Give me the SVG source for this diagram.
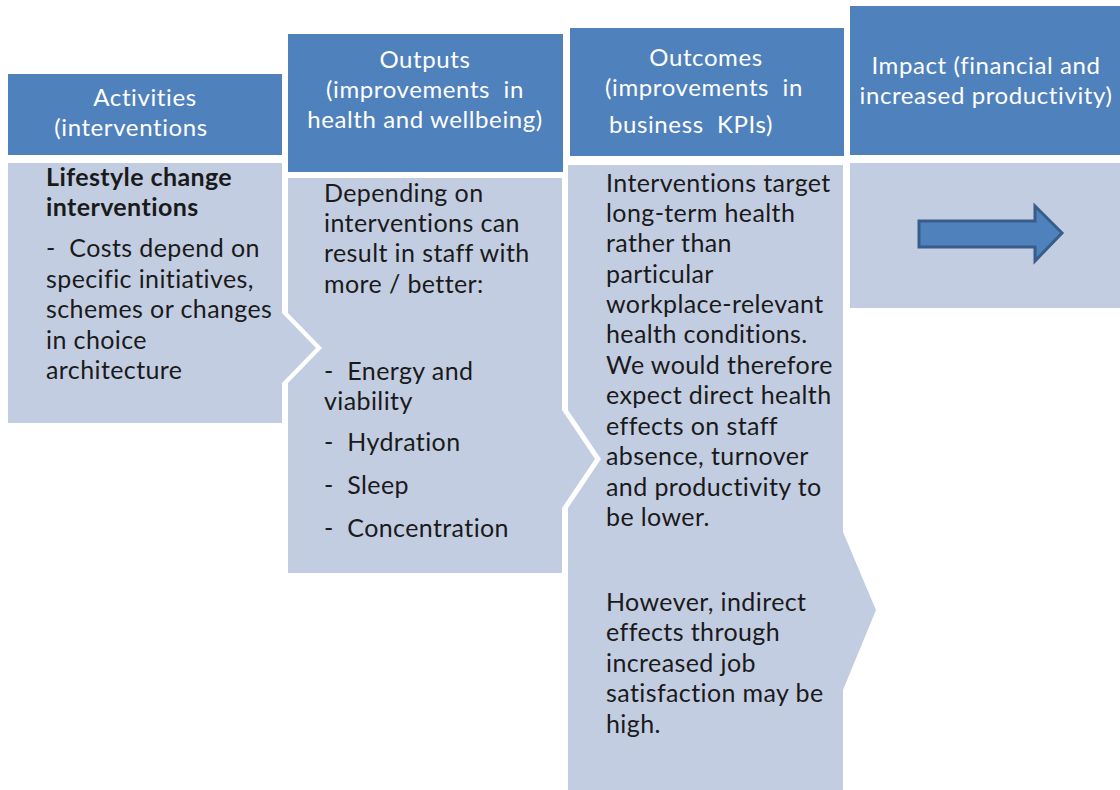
<svg xmlns="http://www.w3.org/2000/svg" width="1120" height="790" viewBox="0 0 1120 790">
<style>
.hdr{fill:#4F81BD;}
.body{fill:#C3CDE2;}
.ht{font-family:Lato,"Open Sans",sans-serif;font-size:24px;letter-spacing:0.6px;fill:#FFFFFF;}
.bt{font-family:Lato,"Open Sans",sans-serif;font-size:25px;letter-spacing:0.4px;fill:#1a1a1a;}
.b{font-weight:bold;letter-spacing:0.4px;}
.mid{text-anchor:middle;}
</style>
<rect width="1120" height="790" fill="#FFFFFF"/>
<g id="activities">
<rect class="hdr" x="8" y="74" width="274" height="81"/>
<polygon class="body" points="8,163 282,163 282,313 316,348 282,383 282,423 8,423"/>
<text class="ht mid" x="145" y="106">Activities</text>
<text class="ht mid" x="131" y="136">(interventions</text>
<text class="bt b" x="46" y="186">Lifestyle change</text>
<text class="bt b" x="46" y="216">interventions</text>
<text class="bt" x="46" y="257" xml:space="preserve">-  Costs depend on</text>
<text class="bt" x="46" y="288">specific initiatives,</text>
<text class="bt" x="46" y="318">schemes or changes</text>
<text class="bt" x="46" y="349">in choice</text>
<text class="bt" x="46" y="379">architecture</text>
</g>
<g id="outputs">
<rect class="hdr" x="288" y="34" width="275" height="138"/>
<polygon class="body" points="288,178 562,178 562,410 595,459 562,508 562,573 288,573 288,383 322,348 288,313"/>
<text class="ht mid" x="425" y="68">Outputs</text>
<text class="ht mid" x="425" y="98" xml:space="preserve">(improvements  in</text>
<text class="ht mid" x="425" y="128">health and wellbeing)</text>
<text class="bt" x="324" y="202">Depending on</text>
<text class="bt" x="324" y="232">interventions can</text>
<text class="bt" x="324" y="262">result in staff with</text>
<text class="bt" x="324" y="293">more / better:</text>
<text class="bt" x="324" y="380" xml:space="preserve">-  Energy and</text>
<text class="bt" x="324" y="410">viability</text>
<text class="bt" x="324" y="451" xml:space="preserve">-  Hydration</text>
<text class="bt" x="324" y="494" xml:space="preserve">-  Sleep</text>
<text class="bt" x="324" y="537" xml:space="preserve">-  Concentration</text>
</g>
<g id="outcomes">
<rect class="hdr" x="570" y="28" width="274" height="128"/>
<polygon class="body" points="568,165 843,165 843,532 876,610 843,690 843,790 568,790 568,508 601,459 568,410"/>
<text class="ht mid" x="706" y="66">Outcomes</text>
<text class="ht mid" x="704" y="96" xml:space="preserve">(improvements  in</text>
<text class="ht" x="609" y="133" xml:space="preserve">business  KPIs)</text>
<text class="bt" x="606" y="192">Interventions target</text>
<text class="bt" x="606" y="222">long-term health</text>
<text class="bt" x="606" y="252">rather than</text>
<text class="bt" x="606" y="283">particular</text>
<text class="bt" x="606" y="313">workplace-relevant</text>
<text class="bt" x="606" y="343">health conditions.</text>
<text class="bt" x="606" y="374">We would therefore</text>
<text class="bt" x="606" y="404">expect direct health</text>
<text class="bt" x="606" y="435">effects on staff</text>
<text class="bt" x="606" y="465">absence, turnover</text>
<text class="bt" x="606" y="496">and productivity to</text>
<text class="bt" x="606" y="526">be lower.</text>
<text class="bt" x="606" y="611">However, indirect</text>
<text class="bt" x="606" y="641">effects through</text>
<text class="bt" x="606" y="672">increased job</text>
<text class="bt" x="606" y="702">satisfaction may be</text>
<text class="bt" x="606" y="733">high.</text>
</g>
<g id="impact">
<rect class="hdr" x="850" y="6" width="270" height="149"/>
<rect class="body" x="850" y="163" width="270" height="145"/>
<text class="ht mid" x="986" y="74">Impact (financial and</text>
<text class="ht mid" x="986" y="104">increased productivity)</text>
</g>
<g id="connectors">
<polygon points="919,221 1035,221 1035,206 1062,233 1035,261 1035,247 919,247" fill="#4F81BD" stroke="#385D8A" stroke-width="3" stroke-linejoin="miter"/>
</g>
</svg>
